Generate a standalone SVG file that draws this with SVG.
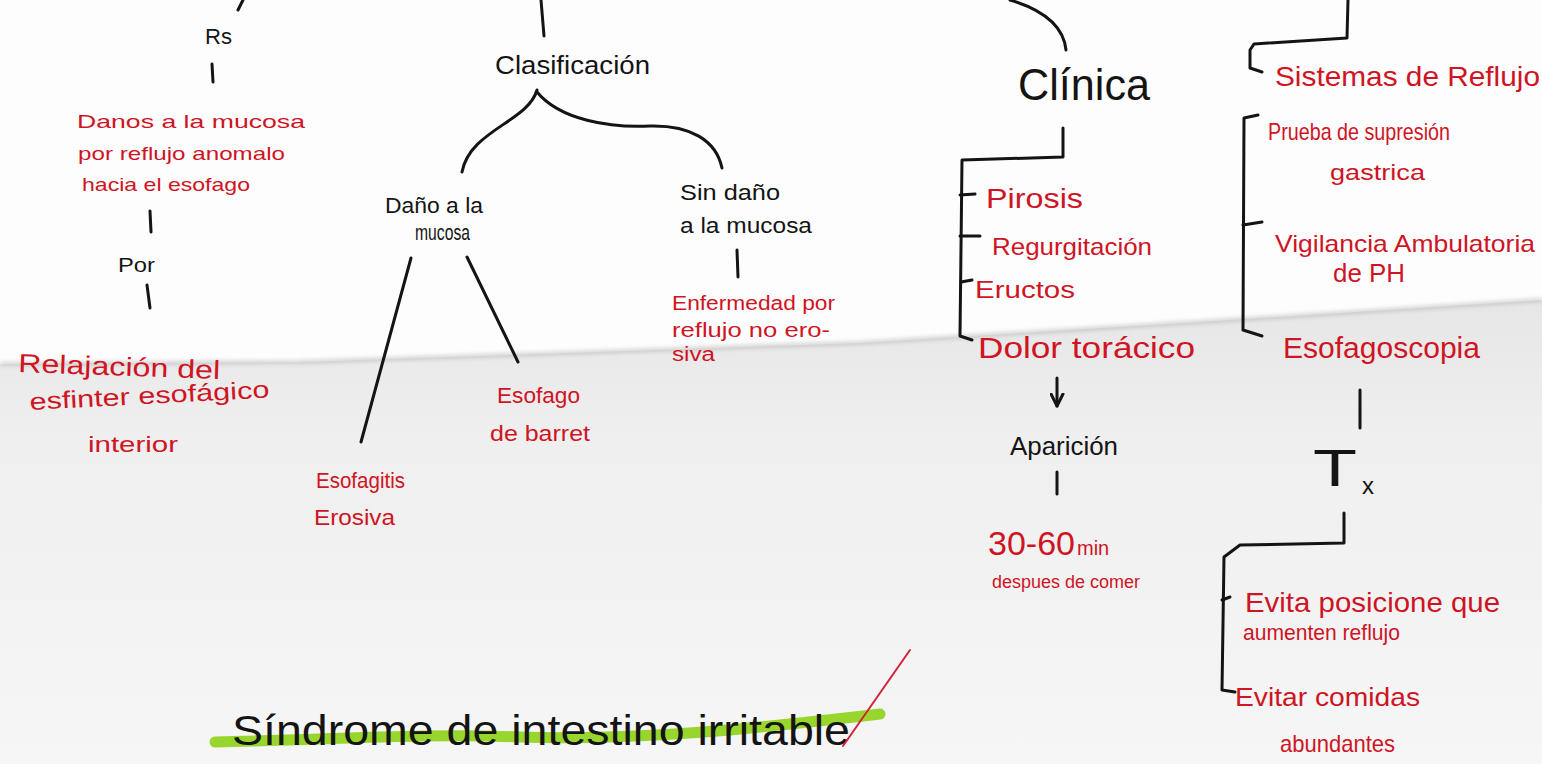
<svg xmlns="http://www.w3.org/2000/svg" width="1542" height="764" viewBox="0 0 1542 764">
  <defs>
    <style>
      .ink { fill: #141414; font-family: "Liberation Sans", "DejaVu Sans", sans-serif; }
      .red { fill: #cf1424; font-family: "Liberation Sans", "DejaVu Sans", sans-serif; }
      .line { fill: none; stroke: #141414; stroke-width: 3; stroke-linecap: round; stroke-linejoin: round; }
    </style>
    <linearGradient id="lowerPaper" x1="0" y1="0" x2="0" y2="1">
      <stop offset="0" stop-color="#e6e6e6"/>
      <stop offset="0.3" stop-color="#efefef"/>
      <stop offset="1" stop-color="#f6f6f6"/>
    </linearGradient>
    <filter id="soft" x="-5%" y="-50%" width="110%" height="200%">
      <feGaussianBlur stdDeviation="2"/>
    </filter>
    <marker id="arrowhead" viewBox="0 0 10 10" refX="9" refY="5" markerWidth="5" markerHeight="5" orient="auto" markerUnits="strokeWidth">
      <path d="M1,1 L9,5 L1,9" fill="none" stroke="#141414" stroke-width="2" stroke-linecap="round" stroke-linejoin="round"/>
    </marker>
  </defs>

  <!-- paper: white upper sheet, slightly grey lower half below the fold -->
  <rect width="1542" height="764" fill="#fdfdfd"/>
  <path d="M0,364 L300,362 L860,343 L1200,322 L1542,300 L1542,764 L0,764 Z" fill="url(#lowerPaper)"/>
  <path d="M0,364 L300,362 L860,343 L1200,322 L1542,300" fill="none" stroke="#acacac" stroke-width="2" filter="url(#soft)"/>

  <!-- connectors -->
  <g id="connectors">
    <path class="line" d="M243,0 L238,10"/>
    <path class="line" d="M212,64 L213,82"/>
    <path class="line" d="M150,211 L151,232"/>
    <path class="line" d="M147,285 L150,308"/>
    <path class="line" d="M541,0 L544,36"/>
    <path class="line" d="M537,90 C528,122 470,130 462,172"/>
    <path class="line" d="M537,92 C560,120 610,128 650,126 C690,125 716,140 722,168"/>
    <path class="line" d="M411,258 L361,442"/>
    <path class="line" d="M467,257 L518,362"/>
    <path class="line" d="M737,250 L738,277"/>
    <path class="line" d="M1010,0 C1050,12 1064,30 1066,50"/>
    <path class="line" d="M1063,128 L1063,157 L962,160 L960,336 L972,340"/>
    <path class="line" d="M960,195 L975,194"/>
    <path class="line" d="M960,236 L980,236"/>
    <path class="line" d="M961,282 L972,280"/>
    <path class="line" d="M1057,378 L1057,406" marker-end="url(#arrowhead)"/>
    <path class="line" d="M1057,472 L1057,494"/>
    <path class="line" d="M1348,0 L1347,38 L1254,44 L1250,50 L1250,68 L1262,72"/>
    <path class="line" d="M1258,115 L1244,118 L1243,330 L1262,336"/>
    <path class="line" d="M1243,225 L1262,222"/>
    <path class="line" d="M1360,390 L1360,428"/>
    <path class="line" d="M1344,513 L1344,543 L1240,545 L1224,557 L1222,690 L1235,692"/>
    <path class="line" d="M1222,600 L1230,597"/>
  </g>

  <!-- left branch: Rs -->
  <g id="rs">
    <text class="ink" x="205" y="44" font-size="22" textLength="27" lengthAdjust="spacingAndGlyphs">Rs</text>
  </g>
  <g id="danos-mucosa">
    <text class="red" x="77" y="128" font-size="19" textLength="228" lengthAdjust="spacingAndGlyphs">Danos a la mucosa</text>
    <text class="red" x="78" y="160" font-size="19" textLength="207" lengthAdjust="spacingAndGlyphs">por reflujo anomalo</text>
    <text class="red" x="82" y="191" font-size="19" textLength="168" lengthAdjust="spacingAndGlyphs">hacia el esofago</text>
  </g>
  <g id="por">
    <text class="ink" x="118" y="272" font-size="20" textLength="37" lengthAdjust="spacingAndGlyphs">Por</text>
  </g>
  <g id="relajacion">
    <text class="red" x="18" y="372" font-size="26" textLength="202" lengthAdjust="spacingAndGlyphs" transform="rotate(2 18 372)">Relajación del</text>
    <text class="red" x="30" y="410" font-size="24" textLength="240" lengthAdjust="spacingAndGlyphs" transform="rotate(-3 30 410)">esfinter esofágico</text>
    <text class="red" x="88" y="452" font-size="22" textLength="90" lengthAdjust="spacingAndGlyphs">interior</text>
  </g>

  <!-- classification branch -->
  <g id="clasificacion">
    <text class="ink" x="495" y="74" font-size="26" textLength="155" lengthAdjust="spacingAndGlyphs">Clasificación</text>
  </g>
  <g id="dano-mucosa">
    <text class="ink" x="385" y="213" font-size="22" textLength="98" lengthAdjust="spacingAndGlyphs">Daño a la</text>
    <text class="ink" x="415" y="240" font-size="22" textLength="55" lengthAdjust="spacingAndGlyphs">mucosa</text>
  </g>
  <g id="sin-dano">
    <text class="ink" x="680" y="200" font-size="22" textLength="100" lengthAdjust="spacingAndGlyphs">Sin daño</text>
    <text class="ink" x="680" y="233" font-size="22" textLength="132" lengthAdjust="spacingAndGlyphs">a la mucosa</text>
  </g>
  <g id="enfermedad">
    <text class="red" x="672" y="310" font-size="20" textLength="163" lengthAdjust="spacingAndGlyphs">Enfermedad por</text>
    <text class="red" x="672" y="337" font-size="20" textLength="158" lengthAdjust="spacingAndGlyphs">reflujo no ero-</text>
    <text class="red" x="672" y="361" font-size="20" textLength="43" lengthAdjust="spacingAndGlyphs">siva</text>
  </g>
  <g id="barret">
    <text class="red" x="497" y="403" font-size="22" textLength="83" lengthAdjust="spacingAndGlyphs">Esofago</text>
    <text class="red" x="490" y="441" font-size="22" textLength="100" lengthAdjust="spacingAndGlyphs">de barret</text>
  </g>
  <g id="esofagitis">
    <text class="red" x="316" y="488" font-size="22" textLength="89" lengthAdjust="spacingAndGlyphs">Esofagitis</text>
    <text class="red" x="314" y="525" font-size="22" textLength="81" lengthAdjust="spacingAndGlyphs">Erosiva</text>
  </g>

  <!-- clinical picture -->
  <g id="clinica">
    <text class="ink" x="1018" y="100" font-size="44" textLength="132" lengthAdjust="spacingAndGlyphs">Clínica</text>
  </g>
  <g id="pirosis">
    <text class="red" x="986" y="208" font-size="28" textLength="97" lengthAdjust="spacingAndGlyphs">Pirosis</text>
  </g>
  <g id="regurgitacion">
    <text class="red" x="992" y="255" font-size="24" textLength="160" lengthAdjust="spacingAndGlyphs">Regurgitación</text>
  </g>
  <g id="eructos">
    <text class="red" x="975" y="298" font-size="24" textLength="100" lengthAdjust="spacingAndGlyphs">Eructos</text>
  </g>
  <g id="dolor-toracico">
    <text class="red" x="978" y="358" font-size="30" textLength="217" lengthAdjust="spacingAndGlyphs">Dolor torácico</text>
  </g>
  <g id="aparicion">
    <text class="ink" x="1010" y="455" font-size="26" textLength="108" lengthAdjust="spacingAndGlyphs">Aparición</text>
  </g>
  <g id="tiempo">
    <text class="red" x="988" y="555" font-size="34">30-60<tspan font-size="20" dx="2">min</tspan></text>
    <text class="red" x="992" y="588" font-size="18" textLength="148" lengthAdjust="spacingAndGlyphs">despues de comer</text>
  </g>

  <!-- diagnosis -->
  <g id="sistemas-reflujo">
    <text class="red" x="1275" y="86" font-size="28" textLength="265" lengthAdjust="spacingAndGlyphs">Sistemas de Reflujo</text>
  </g>
  <g id="prueba-supresion">
    <text class="red" x="1268" y="140" font-size="24" textLength="182" lengthAdjust="spacingAndGlyphs">Prueba de supresión</text>
    <text class="red" x="1330" y="180" font-size="22" textLength="95" lengthAdjust="spacingAndGlyphs">gastrica</text>
  </g>
  <g id="vigilancia-ph">
    <text class="red" x="1275" y="252" font-size="24" textLength="260" lengthAdjust="spacingAndGlyphs">Vigilancia Ambulatoria</text>
    <text class="red" x="1333" y="282" font-size="26" textLength="72" lengthAdjust="spacingAndGlyphs">de PH</text>
  </g>
  <g id="esofagoscopia">
    <text class="red" x="1283" y="358" font-size="30" textLength="197" lengthAdjust="spacingAndGlyphs">Esofagoscopia</text>
  </g>

  <!-- treatment -->
  <g id="tx">
    <text class="ink" x="1313" y="486" font-size="52" textLength="44" lengthAdjust="spacingAndGlyphs">T</text>
    <text class="ink" x="1362" y="494" font-size="24">x</text>
  </g>
  <g id="evita-posiciones">
    <text class="red" x="1245" y="612" font-size="28" textLength="255" lengthAdjust="spacingAndGlyphs">Evita posicione que</text>
    <text class="red" x="1243" y="640" font-size="22" textLength="157" lengthAdjust="spacingAndGlyphs">aumenten reflujo</text>
  </g>
  <g id="evitar-comidas">
    <text class="red" x="1235" y="706" font-size="26" textLength="185" lengthAdjust="spacingAndGlyphs">Evitar comidas</text>
    <text class="red" x="1280" y="752" font-size="24" textLength="115" lengthAdjust="spacingAndGlyphs">abundantes</text>
  </g>

  <!-- next topic heading, highlighted and ticked -->
  <g id="sindrome-intestino-irritable">
    <path d="M215,742 C330,740 420,733 520,737 C640,741 760,728 880,714" fill="none" stroke="#8fd21c" stroke-width="11" stroke-linecap="round" opacity="0.92"/>
    <text class="ink" x="232" y="745" font-size="42" textLength="618" lengthAdjust="spacingAndGlyphs">Síndrome de intestino irritable</text>
    <path d="M843,746 L910,650" fill="none" stroke="#d0243a" stroke-width="2" stroke-linecap="round"/>
  </g>
</svg>
